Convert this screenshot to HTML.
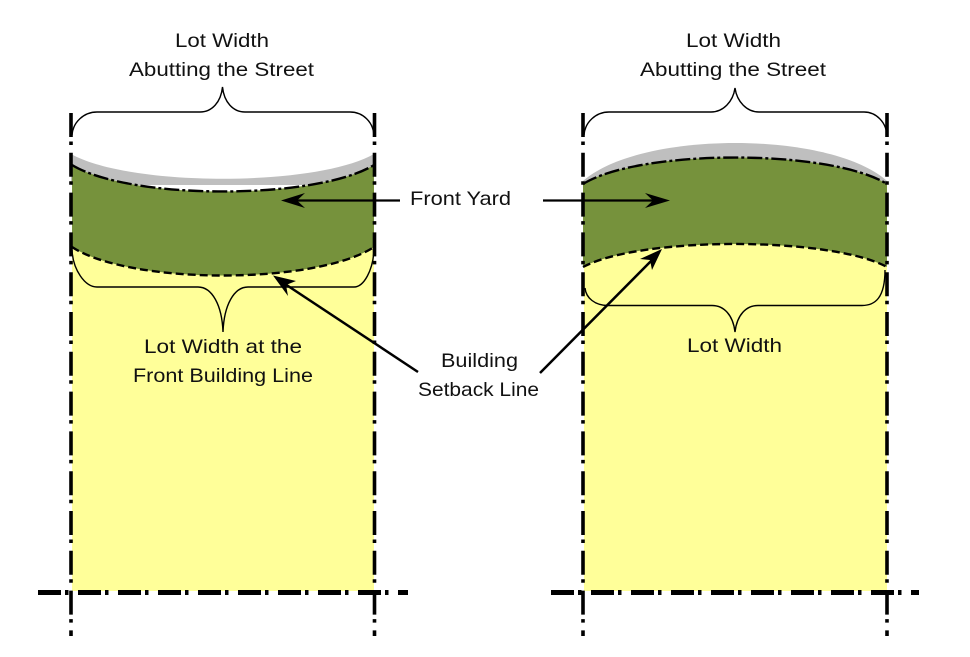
<!DOCTYPE html>
<html><head><meta charset="utf-8"><style>
html,body{margin:0;padding:0;background:#fff}
svg{display:block}
text{font-family:"Liberation Sans",sans-serif;font-size:19.5px;fill:#111}
.b{fill:none;stroke:#000;stroke-width:1.4}
.v{fill:none;stroke:#000;stroke-width:3.6;stroke-dasharray:24 4.5 3.5 7.8}
.h{fill:none;stroke:#000;stroke-width:5;stroke-dasharray:23 4 3.5 9.5}
.dd{fill:none;stroke:#000;stroke-width:2.4;stroke-dasharray:15 3 3 3}
.d{fill:none;stroke:#000;stroke-width:2.4;stroke-dasharray:8 4}
.a{stroke:#000;stroke-width:2.2;fill:none}
</style></head><body>
<svg width="970" height="657" viewBox="0 0 970 657" xmlns="http://www.w3.org/2000/svg">
<rect width="970" height="657" fill="#fff"/>
<!-- left lot -->
<rect x="72" y="230" width="302" height="361" fill="#ffff99"/>
<path d="M71 154 C130 187 316 187 374 154 L374 185 L71 185Z" fill="#bfbfbf"/>
<path d="M72 165 C130 200.300 316 200.300 374 165 L374 247 C316 285 130 285 72 247Z" fill="#76923c"/>
<path class="dd" d="M72 165 C130 200.300 316 200.300 374 165"/>
<path class="d" d="M72 247 C130 285 316 285 374 247"/>
<!-- right lot -->
<rect x="584" y="235" width="303" height="356" fill="#ffff99"/>
<path d="M583 181 C640 130.300 830 130.300 887 181 L887 190 L583 190Z" fill="#bfbfbf"/>
<path d="M583 184 C640 148.700 830 148.700 887 184 L887 267 C830 236.300 640 236.300 583 267Z" fill="#76923c"/>
<path class="dd" d="M583 184 C640 148.700 830 148.700 887 184"/>
<path class="d" d="M583 267 C640 236.300 830 236.300 887 267"/>
<!-- property lines -->
<path class="v" d="M71 113V636"/><path class="v" d="M374.500 113V636"/>
<path class="v" d="M583 113V636"/><path class="v" d="M887 113V636"/>
<path class="h" d="M38 592.500H408"/><path class="h" d="M551 592.500H919"/>
<!-- braces -->
<path class="b" d="M72 135 C73 122 84 112 97 112 H200 C212 112 221 102 222.500 87 C224 102 233 112 245 112 H350 C363 112 373 122 374 135"/>
<path class="b" d="M584 135 C585 122 596 112 609 112 H711 C723 112 733 102 735 88 C737 102 747 112 759 112 H864 C876 112 886 122 887 135"/>
<path class="b" d="M72 250 C73 270 85 287 97 287 H198 C212 287 222 305 223 332 C224 305 234 287 248 287 H354 C364 287 373 270 374 250"/>
<path class="b" d="M585 288 C586 298 595 305.500 608 305.500 H712 C724 305.500 733 315 735 332 C737 315 746 305.500 758 305.500 H862 C875 305.500 885 298 885 270"/>
<!-- arrows -->
<path class="a" d="M400 200.500H290"/>
<polygon points="281,200.500 305,193 297,200.500 305,208" fill="#000"/>
<path class="a" d="M543 200.500H660"/>
<polygon points="670,200.500 645,193 653,200.500 645,208" fill="#000"/>
<path class="a" style="stroke-width:2.500" d="M418 372L282 282"/>
<polygon points="273,275.500 296,281 286,285 288,296" fill="#000"/>
<path class="a" style="stroke-width:2.500" d="M540 373L656 256"/>
<polygon points="662,249 652,270 650,260 640,259" fill="#000"/>
<!-- labels -->
<text x="175" y="47" textLength="94" lengthAdjust="spacingAndGlyphs">Lot Width</text>
<text x="129" y="76" textLength="185" lengthAdjust="spacingAndGlyphs">Abutting the Street</text>
<text x="686" y="47" textLength="95" lengthAdjust="spacingAndGlyphs">Lot Width</text>
<text x="640" y="76" textLength="186" lengthAdjust="spacingAndGlyphs">Abutting the Street</text>
<text x="410" y="205" textLength="101" lengthAdjust="spacingAndGlyphs">Front Yard</text>
<text x="144" y="353" textLength="158" lengthAdjust="spacingAndGlyphs">Lot Width at the</text>
<text x="133" y="382" textLength="180" lengthAdjust="spacingAndGlyphs">Front Building Line</text>
<text x="441" y="367" textLength="77" lengthAdjust="spacingAndGlyphs">Building</text>
<text x="418" y="396" textLength="121" lengthAdjust="spacingAndGlyphs">Setback Line</text>
<text x="687" y="352" textLength="95" lengthAdjust="spacingAndGlyphs">Lot Width</text>
</svg>
</body></html>
